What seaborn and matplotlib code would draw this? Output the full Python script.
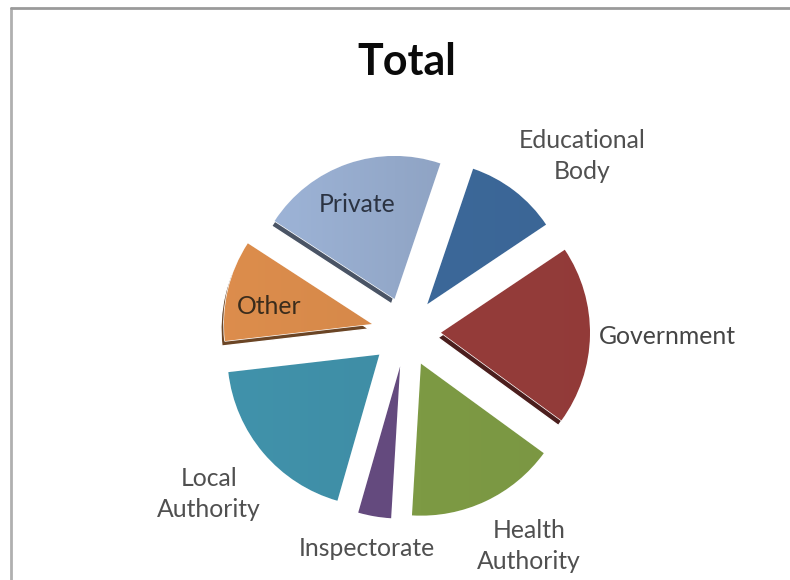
import numpy as np
import matplotlib
matplotlib.use("Agg")
import matplotlib.pyplot as plt
from matplotlib.colors import LinearSegmentedColormap, to_rgb
from matplotlib.lines import Line2D
import seaborn as sns

# Share of the total per sector, clockwise from Educational Body
categories = ["Educational Body", "Government", "Health Authority", "Inspectorate",
              "Local Authority", "Other", "Private"]
shares = [10.4, 19.4, 15.9, 3.5, 18.7, 11.0, 21.0]
base_hex = ["#3c6899", "#953c3a", "#7d9a44", "#644a7e", "#3f8ea6", "#d6894a", "#93a8c9"]

# Text shown on or beside each slice, and where it sits (pixels from top left)
slice_labels = ["Educational\nBody", "Government", "Health\nAuthority", "Inspectorate",
                "Local\nAuthority", "Other", "Private"]
label_xy = [(582, 156), (667, 336), (529, 546), (367, 548),
            (209, 494), (269, 306), (357, 204)]
label_ink = ["#505050", "#454545", "#505050", "#505050", "#505050", "#3a2c1c", "#2b3342"]

# Slices that show a darker side wall below their lower edge
walled = {"Government", "Other", "Private"}
# Slices further back are drawn slightly smaller to suggest a tilted pie
slice_radius = [143, 149, 152, 152, 152, 148, 143]
# Strength of the left-to-right sheen on each slice
sheen_amount = [0.02, 0.02, 0.02, 0.02, 0.03, 0.03, 0.08]

W, H = 790, 580
sns.set_theme(style="white")
plt.rcParams["font.family"] = ["Lato", "DejaVu Sans"]
palette = sns.color_palette(base_hex)

fig = plt.figure(figsize=(W / 100, H / 100), dpi=100, facecolor="white")
ax = fig.add_axes([0, 0, 1, 1])
ax.set_axis_off()

center = (406, H - 332)
radius = 151
# pie() applies explode in data units, so the offset is given in pixels here
explode = [35] * len(shares)
start = 71.3


def px(x, y):
    return x, H - y


# Side walls: the same pie shifted down and left, in a darker shade
wall_colors = [tuple(c * 0.5 for c in col) for col in palette]
walls, _ = ax.pie(shares, explode=explode, colors=wall_colors, startangle=start,
                  counterclock=False, center=(center[0] - 3, center[1] - 5),
                  radius=radius, frame=True)
for name, w, r in zip(categories, walls, slice_radius):
    w.set_visible(name in walled)
    w.set_radius(r)
    w.set_zorder(1)

# Top faces
faces, _ = ax.pie(shares, explode=explode, colors=palette, startangle=start,
                  counterclock=False, center=center, radius=radius, frame=True)

# Soft left-to-right sheen clipped to each face
sheen = np.linspace(0, 1, 128).reshape(1, -1)
for face, col, r, amount in zip(faces, palette, slice_radius, sheen_amount):
    face.set_radius(r)
    face.set_zorder(2)
    rgb = np.array(to_rgb(col))
    cmap = LinearSegmentedColormap.from_list(
        "sheen", [np.clip(rgb * (1 + amount), 0, 1), np.clip(rgb * (1 - amount), 0, 1)])
    cx, cy = face.center
    im = ax.imshow(sheen, cmap=cmap, aspect="auto", zorder=3,
                   extent=(cx - r, cx + r, cy - r, cy + r))
    im.set_clip_path(face)

ax.set_xlim(0, W)
ax.set_ylim(0, H)
ax.set_aspect("equal")
ax.set_xticks([])
ax.set_yticks([])
ax.set_frame_on(False)

# Labels and title
for text, (x, y), ink in zip(slice_labels, label_xy, label_ink):
    ax.text(*px(x, y), text, ha="center", va="center", fontsize=17.8,
            color=ink, linespacing=1.45, zorder=5)
ax.text(*px(407, 62), "Total", ha="center", va="center", fontsize=31,
        fontweight="bold", color="#0a0a0a", zorder=5)

# Chart border, open at the bottom and right
border = "#9a9a9a"
fig.add_artist(Line2D([11 / W, 11 / W], [0, 1 - 8 / H], color="#b0b0b0", lw=2.0))
fig.add_artist(Line2D([11 / W, 1], [1 - 8 / H, 1 - 8 / H], color=border, lw=2.0))

fig.savefig("out.png", dpi=100, facecolor="white")
